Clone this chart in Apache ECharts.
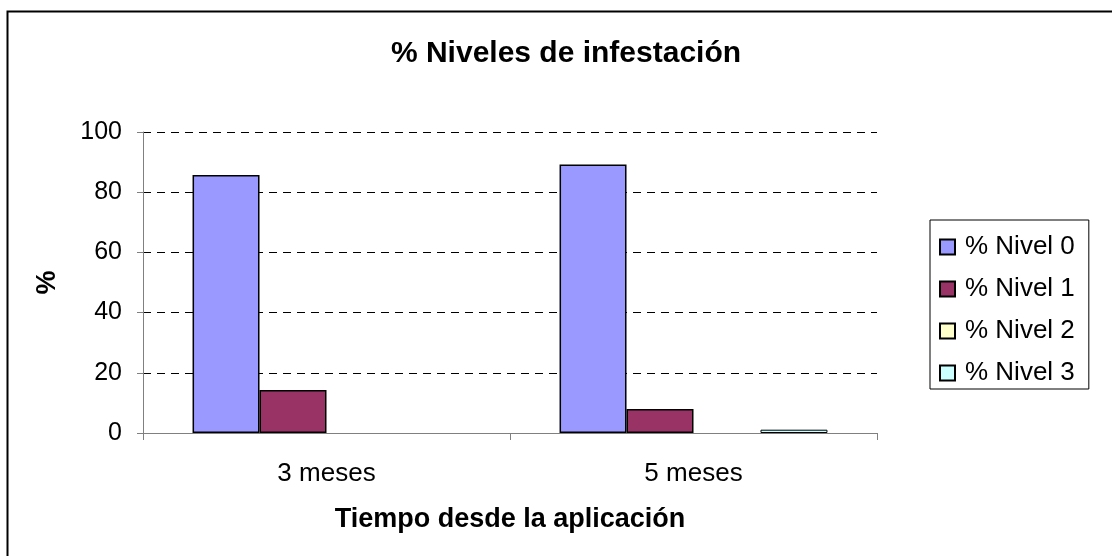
<!DOCTYPE html>
<html>
<head>
<meta charset="utf-8">
<script src="https://cdn.jsdelivr.net/npm/echarts@6/dist/echarts.min.js"></script>
<style>html,body{margin:0;padding:0;background:#fff}#c{width:1112px;height:556px}</style>
</head>
<body>
<div id="c"></div>
<script>
const categories = ['3 meses', '5 meses'];
const seriesNames = ['% Nivel 0', '% Nivel 1', '% Nivel 2', '% Nivel 3'];
const nivel0 = [85.7, 89.2];
const nivel1 = [14.3, 8.0];
const nivel2 = [0, 0];
const nivel3 = [0, 1.1];
const yTicks = [0, 20, 40, 60, 80, 100];

const seriesData = [nivel0, nivel1, nivel2, nivel3];
const colors = ['#9999FF', '#993366', '#FFFFCC', '#CCFFFF'];
const font = '"Liberation Sans", Arial, sans-serif';

const chart = echarts.init(document.getElementById('c'), null, {renderer: 'canvas'});
chart.setOption({
  animation: false,
  backgroundColor: '#fff',
  title: {
    text: '% Niveles de infestación',
    left: 561, top: 34, textAlign: 'center',
    textStyle: {fontFamily: font, fontSize: 30, fontWeight: 'bold', color: '#000'}
  },
  graphic: [
    {type: 'polyline', shape: {points: [[7.5, 600], [7.5, 11.5], [1200, 11.5]]}, style: {stroke: '#000', lineWidth: 2, fill: null}}
  ],
  legend: {
    orient: 'vertical', left: 930, top: 220,
    padding: [14, 14, 3, 9],
    borderColor: '#000', borderWidth: 1,
    icon: 'rect', itemWidth: 15, itemHeight: 15, itemGap: 16,
    textStyle: {fontFamily: font, fontSize: 26, color: '#000', lineHeight: 26, padding: [0, 0, 0, 5]},
    data: seriesNames
  },
  grid: {left: 143, right: 235, top: 132, bottom: 123, containLabel: false},
  xAxis: {
    type: 'category', data: categories,
    name: 'Tiempo desde la aplicación', nameLocation: 'middle', nameGap: 73,
    nameMoveOverlap: false,
    nameTextStyle: {fontFamily: font, fontSize: 27, fontWeight: 'bold', color: '#000'},
    axisLine: {lineStyle: {color: '#808080', width: 1}},
    axisTick: {show: true, length: 7, lineStyle: {color: '#808080'}},
    axisLabel: {fontFamily: font, fontSize: 26, color: '#000', margin: 28}
  },
  yAxis: {
    type: 'value', min: 0, max: 100, interval: 20,
    name: '%', nameLocation: 'middle', nameGap: 82, nameRotate: 90,
    nameMoveOverlap: false,
    nameTextStyle: {fontFamily: font, fontSize: 27, fontWeight: 'bold', color: '#000'},
    axisLine: {show: true, lineStyle: {color: '#808080', width: 1}},
    axisTick: {show: true, length: 6, lineStyle: {color: '#808080'}},
    axisLabel: {fontFamily: font, fontSize: 25, color: '#000', margin: 21,
      formatter: v => yTicks.includes(v) ? String(v) : ''},
    splitLine: {show: true, lineStyle: {color: '#000', type: [8, 6], width: 1}}
  },
  series: seriesNames.map((n, i) => ({
    name: n, type: 'bar',
    data: seriesData[i].map(v => v === 0 ? {value: v, itemStyle: {borderWidth: 0}} : v),
    barGap: '0%', barCategoryGap: '27%',
    itemStyle: {color: colors[i], borderColor: '#000', borderWidth: i === 3 ? 1 : 1.5}
  }))
});
</script>
</body>
</html>
